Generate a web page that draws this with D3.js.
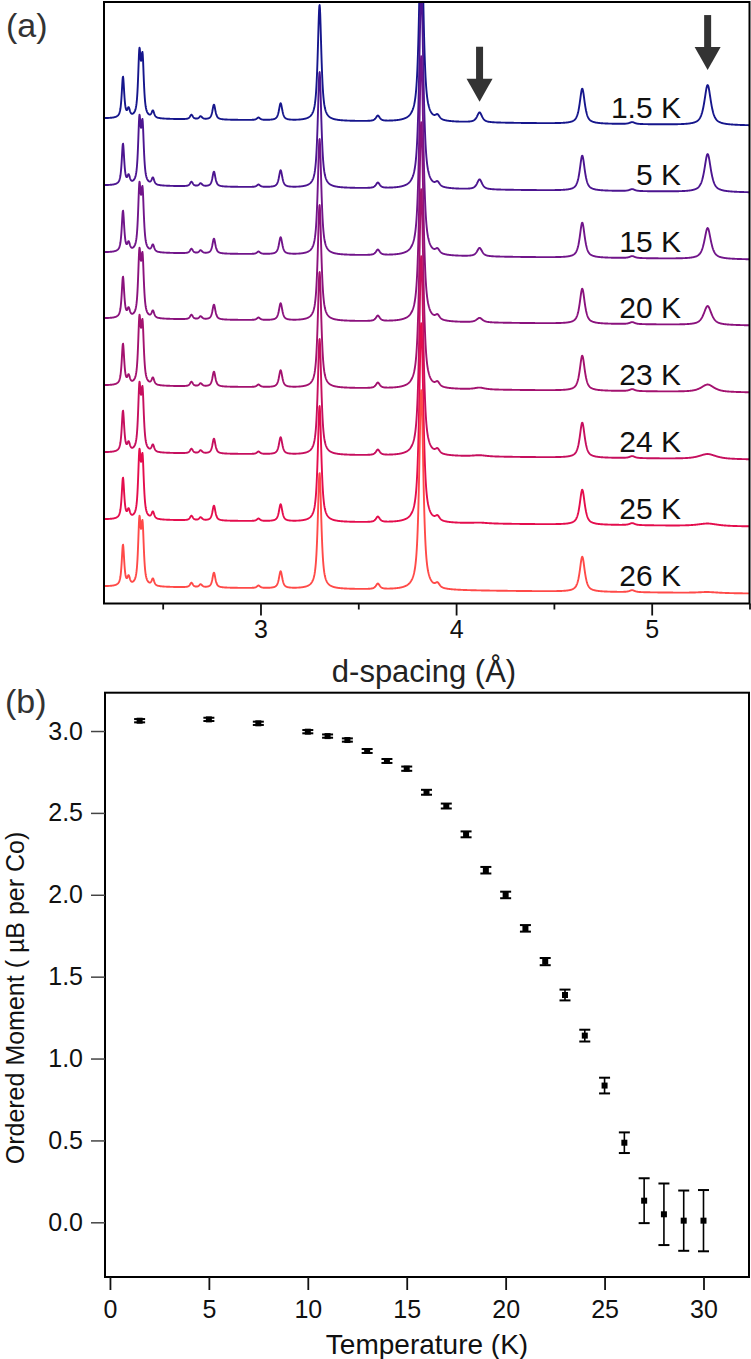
<!DOCTYPE html>
<html><head><meta charset="utf-8">
<script src="https://cdn.jsdelivr.net/npm/d3@7"></script>
<style>
html,body{margin:0;padding:0;background:#fff;}
svg{display:block;font-family:"Liberation Sans",Arial,sans-serif;}
</style></head>
<body>
<svg id="chart" width="751" height="1359"></svg>
<script>
// ---------- Panel (a) data ----------
const tempLabels = ["1.5 K","5 K","15 K","20 K","23 K","24 K","25 K","26 K"];
const traceColors = ["#16168c","#4c1590","#71158a","#8a127d","#a3126f","#c60f5e","#e40d4d","#ff4a48"];
const traceOffsets = [482, 415, 348, 282, 215, 148, 81, 14];
// nuclear peaks: d-spacing (Å), height
const nucD = [2.297, 2.326, 2.381, 2.397, 2.450, 2.647, 2.694, 2.762, 2.990, 3.103, 3.302, 3.600, 3.822, 3.905, 4.645, 4.900];
const nucH = [41, 8, 61, 56, 7, 4.5, 3, 15, 2.5, 17, 116, 5.5, 200, 4.5, 35, 2];
// magnetic peaks (marked by arrows)
const magD = [4.120, 5.286];
const mag1H = [10, 10, 8.5, 4.5, 1.8, 1.2, 0.8, 0];
const mag2H = [40, 38, 31, 19, 7.5, 5, 2.5, 1];
const magWidth = [1, 1, 1, 1.2, 2, 2.6, 3, 3];
// background slope
const bgD = [2.2, 3.5, 5.5];
const bgV = [3, 0, -4];
const xTicksMajor = [3, 4, 5];
const xTicksMinor = [2.5, 3.5, 4.5, 5.5];

// ---------- Panel (b) data ----------
const temps = [1.5, 5, 7.5, 10, 11, 12, 13, 14, 15, 16, 17, 18, 19, 20, 21, 22, 23, 24, 25, 26, 27, 28, 29, 30];
const moment = [3.063, 3.071, 3.047, 2.996, 2.969, 2.945, 2.878, 2.817, 2.770, 2.626, 2.542, 2.369, 2.150, 1.999, 1.795, 1.592, 1.388, 1.140, 0.835, 0.486, 0.132, 0.049, 0.010, 0.010];
const momentErr = [0.010, 0.010, 0.010, 0.010, 0.010, 0.010, 0.012, 0.012, 0.013, 0.015, 0.015, 0.018, 0.020, 0.020, 0.020, 0.022, 0.033, 0.036, 0.048, 0.063, 0.137, 0.188, 0.184, 0.187];
const bXTicks = [0, 5, 10, 15, 20, 25, 30];
const bYTicks = [0.0, 0.5, 1.0, 1.5, 2.0, 2.5, 3.0];

const svg = d3.select("#chart");
const FONT = '"Liberation Sans",Arial,sans-serif';

// ================= Panel (a) =================
const aL = 104, aR = 749.5, aT = 2, aB = 603.5;
const xA = d3.scaleLinear().domain([2.2, 5.5]).range([aL, aR]);
const yA = d3.scaleLinear().domain([0, 600]).range([aB, aT + 1.5]);
const bgScale = d3.scaleLinear().domain(bgD).range(bgV);

function profile(x, x0, h, fwhm) {
  const hw = fwhm / 2;
  const u = (x - x0) / hw;
  const L = 1 / (1 + u * u);
  const G = Math.exp(-Math.LN2 * u * u);
  return h * (0.8 * L + 0.2 * G);
}
const dGrid = d3.range(2.2, 5.5001, 0.0015);

const defs = svg.append("defs");
defs.append("clipPath").attr("id", "clipA").append("rect")
  .attr("x", aL).attr("y", aT + 1).attr("width", aR - aL).attr("height", aB - aT - 1);

const gA = svg.append("g").attr("clip-path", "url(#clipA)");
const line = d3.line().x(d => xA(d[0])).y(d => yA(d[1]));

tempLabels.forEach((lab, i) => {
  const pts = dGrid.map(d => {
    let v = traceOffsets[i] + bgScale(d);
    for (let k = 0; k < nucD.length; k++) v += profile(d, nucD[k], nucH[k], 0.0066 * nucD[k]);
    v += profile(d, magD[0], mag1H[i], 0.0075 * magD[0] * magWidth[i]);
    v += profile(d, magD[1], mag2H[i], 0.0075 * magD[1] * magWidth[i]);
    return [d, v];
  });
  gA.append("path").datum(pts)
    .attr("d", line).attr("fill", "none")
    .attr("stroke", traceColors[i]).attr("stroke-width", 1.9)
    .attr("stroke-linejoin", "round");
});

// temperature labels
tempLabels.forEach((lab, i) => {
  svg.append("text").attr("x", 681).attr("y", yA(traceOffsets[i]) - 4)
    .attr("text-anchor", "end").attr("font-size", 30).attr("fill", "#111")
    .attr("font-family", FONT).text(lab);
});

// arrows over magnetic peaks of the 1.5 K trace
const arrowGap = [11, 15];
magD.forEach((d, k) => {
  const peakTop = yA(traceOffsets[0] + bgScale(d) + (k === 0 ? mag1H[0] : mag2H[0]));
  const tip = peakTop - arrowGap[k];
  const cx = xA(d);
  const g = svg.append("g").attr("fill", "#333");
  g.append("rect").attr("x", cx - 3.5).attr("y", tip - 55).attr("width", 7).attr("height", 33);
  g.append("path").attr("d", `M${cx - 13},${tip - 23} L${cx + 13},${tip - 23} L${cx},${tip} Z`);
});

// frame (a)
svg.append("rect").attr("x", aL).attr("y", aT).attr("width", aR - aL).attr("height", aB - aT)
  .attr("fill", "none").attr("stroke", "#000").attr("stroke-width", 2);

const axA = d3.axisBottom(xA).tickValues(xTicksMajor).tickSize(12).tickPadding(5).tickFormat(d3.format("d"));
const gAx = svg.append("g").attr("transform", `translate(0,${aB})`).call(axA);
gAx.select(".domain").remove();
gAx.selectAll(".tick line").attr("stroke", "#111").attr("stroke-width", 1.8);
gAx.selectAll(".tick text").attr("font-size", 25).attr("font-family", FONT).attr("fill", "#111");
const axAm = d3.axisBottom(xA).tickValues(xTicksMinor).tickSize(6).tickFormat("");
const gAm = svg.append("g").attr("transform", `translate(0,${aB})`).call(axAm);
gAm.select(".domain").remove();
gAm.selectAll(".tick line").attr("stroke", "#111").attr("stroke-width", 1.8);

svg.append("text").attr("x", 424).attr("y", 682).attr("text-anchor", "middle")
  .attr("font-size", 31).attr("font-family", FONT).attr("fill", "#222").text("d-spacing (Å)");
svg.append("text").attr("x", 6).attr("y", 37).attr("font-size", 34)
  .attr("font-family", FONT).attr("fill", "#333").text("(a)");

// ================= Panel (b) =================
const bL = 105, bR = 749, bT = 692.7, bB = 1277;
const xB = d3.scaleLinear().domain([-0.25, 32.3]).range([bL, bR]);
const yB = d3.scaleLinear().domain([-0.334, 3.234]).range([bB, bT]);

svg.append("rect").attr("x", bL).attr("y", bT).attr("width", bR - bL).attr("height", bB - bT)
  .attr("fill", "none").attr("stroke", "#000").attr("stroke-width", 2);

const axBx = d3.axisBottom(xB).tickValues(bXTicks).tickSize(13).tickPadding(10).tickFormat(d3.format("d"));
const gBx = svg.append("g").attr("transform", `translate(0,${bB})`).call(axBx);
gBx.select(".domain").remove();
gBx.selectAll(".tick line").attr("stroke", "#111").attr("stroke-width", 1.8);
gBx.selectAll(".tick text").attr("font-size", 25).attr("font-family", FONT).attr("fill", "#111");

const axBy = d3.axisLeft(yB).tickValues(bYTicks).tickSize(14).tickPadding(8).tickFormat(d3.format(".1f"));
const gBy = svg.append("g").attr("transform", `translate(${bL},0)`).call(axBy);
gBy.select(".domain").remove();
gBy.selectAll(".tick line").attr("stroke", "#444").attr("stroke-width", 1.5);
gBy.selectAll(".tick text").attr("font-size", 25).attr("font-family", FONT).attr("fill", "#111");

svg.append("text").attr("x", 427).attr("y", 1354).attr("text-anchor", "middle")
  .attr("font-size", 28).attr("font-family", FONT).attr("fill", "#111").text("Temperature (K)");
svg.append("text").attr("transform", `translate(24,998) rotate(-90)`).attr("text-anchor", "middle")
  .attr("font-size", 25).attr("font-family", FONT).attr("fill", "#111").text("Ordered Moment ( µB per Co)");
svg.append("text").attr("x", 5).attr("y", 713).attr("font-size", 34)
  .attr("font-family", FONT).attr("fill", "#333").text("(b)");

// error bars + markers
const pts = temps.map((t, i) => ({t, m: moment[i], e: momentErr[i]}));
const gE = svg.append("g").attr("stroke", "#000");
gE.selectAll("line.v").data(pts).join("line").attr("class", "v")
  .attr("x1", d => xB(d.t)).attr("x2", d => xB(d.t))
  .attr("y1", d => yB(d.m - d.e)).attr("y2", d => yB(d.m + d.e)).attr("stroke-width", 1.6);
gE.selectAll("line.ct").data(pts).join("line").attr("class", "ct")
  .attr("x1", d => xB(d.t) - 5.5).attr("x2", d => xB(d.t) + 5.5)
  .attr("y1", d => yB(d.m + d.e)).attr("y2", d => yB(d.m + d.e)).attr("stroke-width", 2);
gE.selectAll("line.cb").data(pts).join("line").attr("class", "cb")
  .attr("x1", d => xB(d.t) - 5.5).attr("x2", d => xB(d.t) + 5.5)
  .attr("y1", d => yB(d.m - d.e)).attr("y2", d => yB(d.m - d.e)).attr("stroke-width", 2);
svg.append("g").selectAll("rect").data(pts).join("rect")
  .attr("x", d => xB(d.t) - 3).attr("y", d => yB(d.m) - 3)
  .attr("width", 6).attr("height", 6).attr("fill", "#000");
</script>
</body></html>
